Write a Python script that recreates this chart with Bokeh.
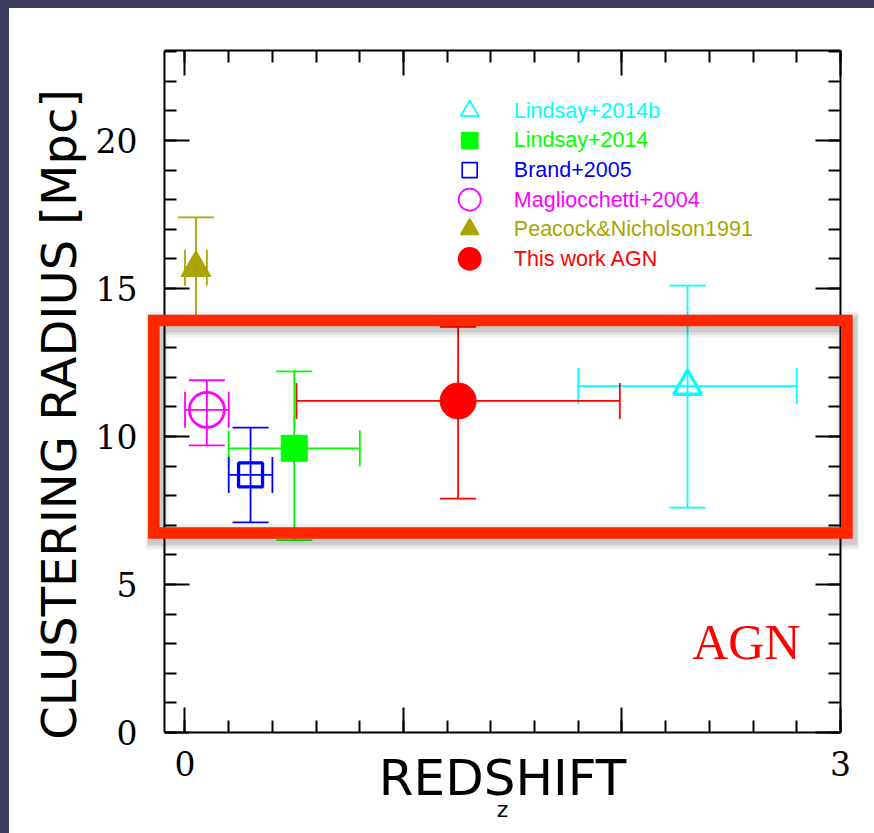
from bokeh.plotting import figure
from bokeh.models import (Range1d, LinearAxis, SingleIntervalTicker, Whisker, TeeHead, Span,
                          ColumnDataSource, BoxAnnotation, Label, GlobalInlineStyleSheet)
from bokeh.core.properties import value
from bokeh.embed import file_html
from bokeh.resources import INLINE

# ---------------- data ----------------
names = ["Lindsay+2014b", "Lindsay+2014", "Brand+2005", "Magliocchetti+2004",
         "Peacock&Nicholson1991", "This work AGN"]
colors = ["#00ffff", "#00ff00", "#0000ff", "#ff00ff", "#aaa400", "#ff0000"]
markers = ["triangle", "square", "square", "circle", "triangle", "circle"]
filled = [False, True, False, False, True, True]
redshift = [2.30, 0.50, 0.30, 0.10, 0.05, 1.25]
redshift_err = [0.50, 0.30, 0.10, 0.10, 0.05, 0.74]
radius = [11.7, 9.6, 8.7, 10.9, 15.7, 11.2]
radius_low = [7.6, 6.5, 7.1, 9.7, 14.0, 7.9]
radius_high = [15.1, 12.2, 10.3, 11.9, 17.4, 13.7]

x_ticks = [0, 1, 2, 3]
x_tick_labels = ["0", "", "", "3"]

# ---------------- styles / layout ----------------
plot_sizes = [28, 26, 24, 35, 30, 36]
plot_lw = [3.3, 1, 3.3, 2.7, 1, 1]
legend_sizes = [18, 16, 15, 22, 18, 22]

# visible axes box (data units) and the wider drawing frame that also holds the highlight box
vis_x0, vis_x1 = -0.094, 3.0
frame_x0, frame_x1 = -0.1762, 3.0824
inset_px = 18  # distance between drawing-frame edge and visible axes box

p = figure(width=865, height=825, x_range=Range1d(frame_x0, frame_x1), y_range=Range1d(0, 23.04),
           output_backend="svg", toolbar_location=None,
           min_border_left=137, min_border_right=16, min_border_top=42, min_border_bottom=101)
p.grid.visible = False
p.background_fill_color = "white"
p.border_fill_color = "white"
p.outline_line_color = None

# slide-like dark strips along the top and left edge of the page
p.stylesheets = [GlobalInlineStyleSheet(css=(
    "html{background:#ffffff !important; box-shadow: inset 9px 8px 0 0 #3b3a5e;}"
    "body{padding:8px 0 0 9px !important; background:transparent !important;}"))]

bottom_ax = p.below[0]
left_ax = p.left[0]
top_ax = LinearAxis()
right_ax = LinearAxis()
p.add_layout(top_ax, "above")
p.add_layout(right_ax, "right")

for ax in [bottom_ax, top_ax]:
    ax.ticker = SingleIntervalTicker(interval=1, num_minor_ticks=5)
    ax.bounds = (vis_x0, vis_x1)
    ax.major_tick_in = 25
    ax.major_tick_out = 0
    ax.minor_tick_in = 12
    ax.minor_tick_out = 0
    ax.axis_line_width = 2
    ax.axis_line_color = "black"
for ax in [left_ax, right_ax]:
    ax.ticker = SingleIntervalTicker(interval=5, num_minor_ticks=5)
    ax.major_tick_in = inset_px + 25
    ax.major_tick_out = -inset_px
    ax.minor_tick_in = inset_px + 12
    ax.minor_tick_out = -inset_px
    ax.axis_line_color = None
for ax in [bottom_ax, top_ax, left_ax, right_ax]:
    ax.major_tick_line_width = 2
    ax.minor_tick_line_width = 2
    ax.major_tick_line_color = "black"
    ax.minor_tick_line_color = "black"
    ax.major_label_text_font = "DejaVu Serif"
    ax.major_label_text_font_size = "33px"
    ax.major_label_text_color = "black"
for ax in [top_ax, right_ax]:
    ax.major_label_text_font_size = "0px"
    ax.major_label_text_color = None
    ax.major_label_standoff = 0

bottom_ax.major_label_overrides = {t: l for t, l in zip(x_ticks, x_tick_labels)}
bottom_ax.major_label_standoff = 18
bottom_ax.axis_label = "REDSHIFT"
bottom_ax.axis_label_text_font = "DejaVu Sans"
bottom_ax.axis_label_text_font_size = "50px"
bottom_ax.axis_label_text_font_style = "normal"
bottom_ax.axis_label_text_color = "black"
bottom_ax.axis_label_standoff = -30

left_ax.major_label_standoff = 27
left_ax.axis_label = "CLUSTERING RADIUS [Mpc]\u00a0\u00a0\u00a0"
left_ax.axis_label_text_font = "DejaVu Sans"
left_ax.axis_label_text_font_size = "48px"
left_ax.axis_label_text_font_style = "normal"
left_ax.axis_label_text_color = "black"
left_ax.axis_label_standoff = 6

# second bottom axis only carrying the small "z" label
z_ax = LinearAxis(axis_label="z", axis_line_color=None, major_tick_line_color=None,
                  minor_tick_line_color=None, major_label_text_font_size="0px",
                  major_label_text_color=None,
                  major_label_standoff=0, major_tick_out=0, minor_tick_out=0,
                  axis_label_text_font="DejaVu Sans", axis_label_text_font_size="22px",
                  axis_label_text_font_style="normal", axis_label_text_color="black",
                  axis_label_standoff=-13)
p.add_layout(z_ax, "below")

# visible vertical sides of the axes box
for xv in [vis_x0, vis_x1]:
    p.add_layout(Span(location=xv, dimension="height", line_color="black", line_width=2))

# ---------------- error bars & points ----------------
for i in range(len(names)):
    c = colors[i]
    src = ColumnDataSource(dict(x=[redshift[i]], y=[radius[i]],
                                xlo=[redshift[i] - redshift_err[i]],
                                xhi=[redshift[i] + redshift_err[i]],
                                ylo=[radius_low[i]], yhi=[radius_high[i]]))
    p.add_layout(Whisker(source=src, base="x", lower="ylo", upper="yhi", dimension="height",
                         line_color=c, line_width=1.8,
                         upper_head=TeeHead(size=36, line_color=c, line_width=1.8),
                         lower_head=TeeHead(size=36, line_color=c, line_width=1.8)))
    p.add_layout(Whisker(source=src, base="y", lower="xlo", upper="xhi", dimension="width",
                         line_color=c, line_width=1.8,
                         upper_head=TeeHead(size=36, line_color=c, line_width=1.8),
                         lower_head=TeeHead(size=36, line_color=c, line_width=1.8)))
    p.scatter(x="x", y="y", source=src, marker=markers[i], size=plot_sizes[i],
              fill_color=c if filled[i] else None, line_color=c, line_width=plot_lw[i])

# ---------------- legend (drawn manually) ----------------
leg_x_marker = 1.303
leg_x_text = 1.505
leg_top = 21.0
leg_step = 1.0
leg_y = [leg_top - k * leg_step for k in range(len(names))]
for i in range(len(names)):
    c = colors[i]
    p.scatter(x=[leg_x_marker], y=[leg_y[i]], marker=markers[i], size=legend_sizes[i],
              fill_color=c if filled[i] else None, line_color=c, line_width=1.7)
p.text(x=[leg_x_text] * len(names), y=leg_y, text=names, text_color=colors,
       text_font=value("Liberation Sans"), text_font_size="21.5px", text_baseline="middle")

# ---------------- highlight box with shadow ----------------
bx_l, bx_r, bx_t, bx_b = -0.1428, 3.0297, 13.92, 6.74
dx, dy = 2 / 218.5, -4 / 29.6
for w, a in [(26, 0.05), (21, 0.07), (16, 0.09)]:
    p.add_layout(BoxAnnotation(left=bx_l + dx, right=bx_r + dx, top=bx_t + dy, bottom=bx_b + dy,
                               fill_alpha=0, line_color="black", line_alpha=a, line_width=w,
                               line_join="miter"))
p.add_layout(BoxAnnotation(left=bx_l, right=bx_r, top=bx_t, bottom=bx_b,
                           fill_alpha=0, line_color="#ff2600", line_alpha=1.0, line_width=11.5,
                           line_join="miter"))

# ---------------- texts ----------------
p.add_layout(Label(x=2.321, y=3.06, text="AGN", text_align="left", text_baseline="alphabetic",
                   text_font="Liberation Serif", text_font_size="50px", text_color="#ff0000"))

open("out.html", "w").write(file_html(p, INLINE))
